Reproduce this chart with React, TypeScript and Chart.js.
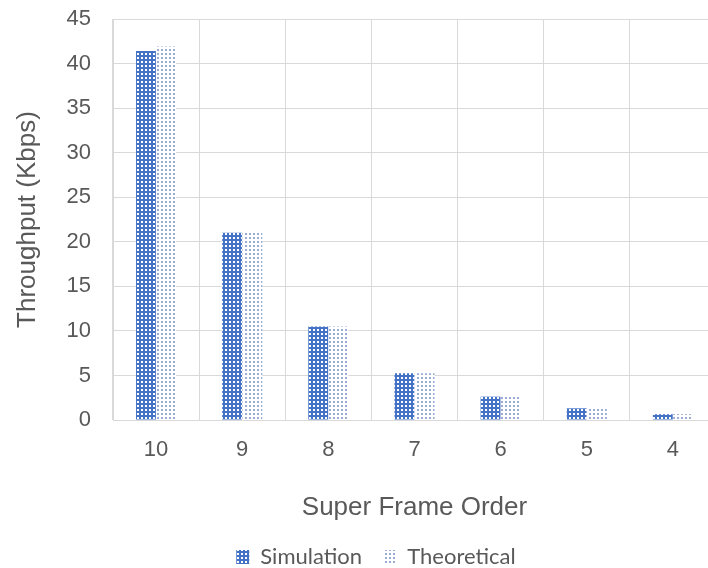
import React, { useEffect, useRef } from "react";
import { Chart, registerables } from "chart.js";

Chart.register(...registerables);

const categories = ["10", "9", "8", "7", "6", "5", "4"];
const simulation = [41.4, 21.0, 10.5, 5.25, 2.62, 1.31, 0.65];
const theoretical = [41.9, 21.0, 10.5, 5.25, 2.62, 1.31, 0.66];
const seriesNames = ["Simulation", "Theoretical"];

const ARIAL = "'Liberation Sans', Arial, sans-serif";
const LEGEND_FONT = "Lato, 'Open Sans', sans-serif";

function makeSimPattern(): CanvasPattern | string {
  const c = document.createElement("canvas");
  c.width = 4;
  c.height = 4;
  const g = c.getContext("2d");
  if (!g) return "#4472C4";
  g.fillStyle = "#4472C4";
  g.fillRect(0, 0, 4, 4);
  g.fillStyle = "#ffffff";
  g.fillRect(1, 1, 2, 2);
  return g.createPattern(c, "repeat") || "#4472C4";
}

function makeTheoPattern(): CanvasPattern | string {
  const c = document.createElement("canvas");
  c.width = 4;
  c.height = 4;
  const g = c.getContext("2d");
  if (!g) return "#A9B8D8";
  g.fillStyle = "#ffffff";
  g.fillRect(0, 0, 4, 4);
  g.fillStyle = "#9AACD3";
  g.fillRect(1, 1, 2, 2);
  return g.createPattern(c, "repeat") || "#A9B8D8";
}

export default function App() {
  const ref = useRef<HTMLCanvasElement | null>(null);

  useEffect(() => {
    if (!ref.current) return;
    const simPat = makeSimPattern();
    const theoPat = makeTheoPattern();
    const chart = new Chart(ref.current, {
      type: "bar",
      data: {
        labels: categories,
        datasets: [
          {
            label: seriesNames[0],
            data: simulation,
            backgroundColor: simPat as any,
            borderWidth: 0,
            categoryPercentage: 0.47,
            barPercentage: 0.98,
          },
          {
            label: seriesNames[1],
            data: theoretical,
            backgroundColor: theoPat as any,
            borderWidth: 0,
            categoryPercentage: 0.47,
            barPercentage: 0.98,
          },
        ],
      },
      options: {
        animation: false,
        responsive: false,
        maintainAspectRatio: false,
        layout: { padding: { top: 19, right: 4, left: 36, bottom: -10 } },
        plugins: {
          tooltip: { enabled: false },
          legend: {
            position: "bottom",
            labels: {
              font: { family: LEGEND_FONT, size: 22 },
              color: "#595959",
              boxWidth: 13,
              boxHeight: 14,
              padding: 10,
              generateLabels: (ch: any) => {
                const items = Chart.defaults.plugins.legend.labels.generateLabels(ch);
                items.forEach((it: any, i: number) => {
                  if (i === 0) it.text = it.text + "  ";
                });
                return items;
              },
            },
          },
        },
        scales: {
          x: {
            grid: { color: "#D9D9D9", drawTicks: false, offset: true },
            border: { color: "#D9D9D9" },
            ticks: {
              font: { family: ARIAL, size: 22 },
              color: "#595959",
              padding: 17,
            },
            title: {
              display: true,
              text: "Super Frame Order",
              font: { family: ARIAL, size: 26 },
              color: "#595959",
              padding: { top: 0, bottom: 13 },
            },
            afterFit: (s: any) => {
              s.height = 116;
            },
          },
          y: {
            min: 0,
            max: 45,
            grid: { color: "#D9D9D9", drawTicks: false },
            border: { color: "#D9D9D9" },
            ticks: {
              stepSize: 5,
              font: { family: ARIAL, size: 22 },
              color: "#595959",
              padding: 22,
            },
            title: {
              display: true,
              text: "Throughput (Kbps)",
              font: { family: ARIAL, size: 26 },
              color: "#595959",
              padding: { top: -24, bottom: 0 },
            },
            afterFit: (s: any) => {
              s.width = 77;
              s.paddingTop = 0;
              s.paddingBottom = 0;
            },
          },
        },
      },
    });
    return () => chart.destroy();
  }, []);

  return (
    <div
      style={{
        position: "fixed",
        left: 0,
        top: 0,
        width: 720,
        height: 568,
        background: "#ffffff",
      }}
    >
      <canvas ref={ref} width={720} height={568} style={{ display: "block" }} />
    </div>
  );
}
